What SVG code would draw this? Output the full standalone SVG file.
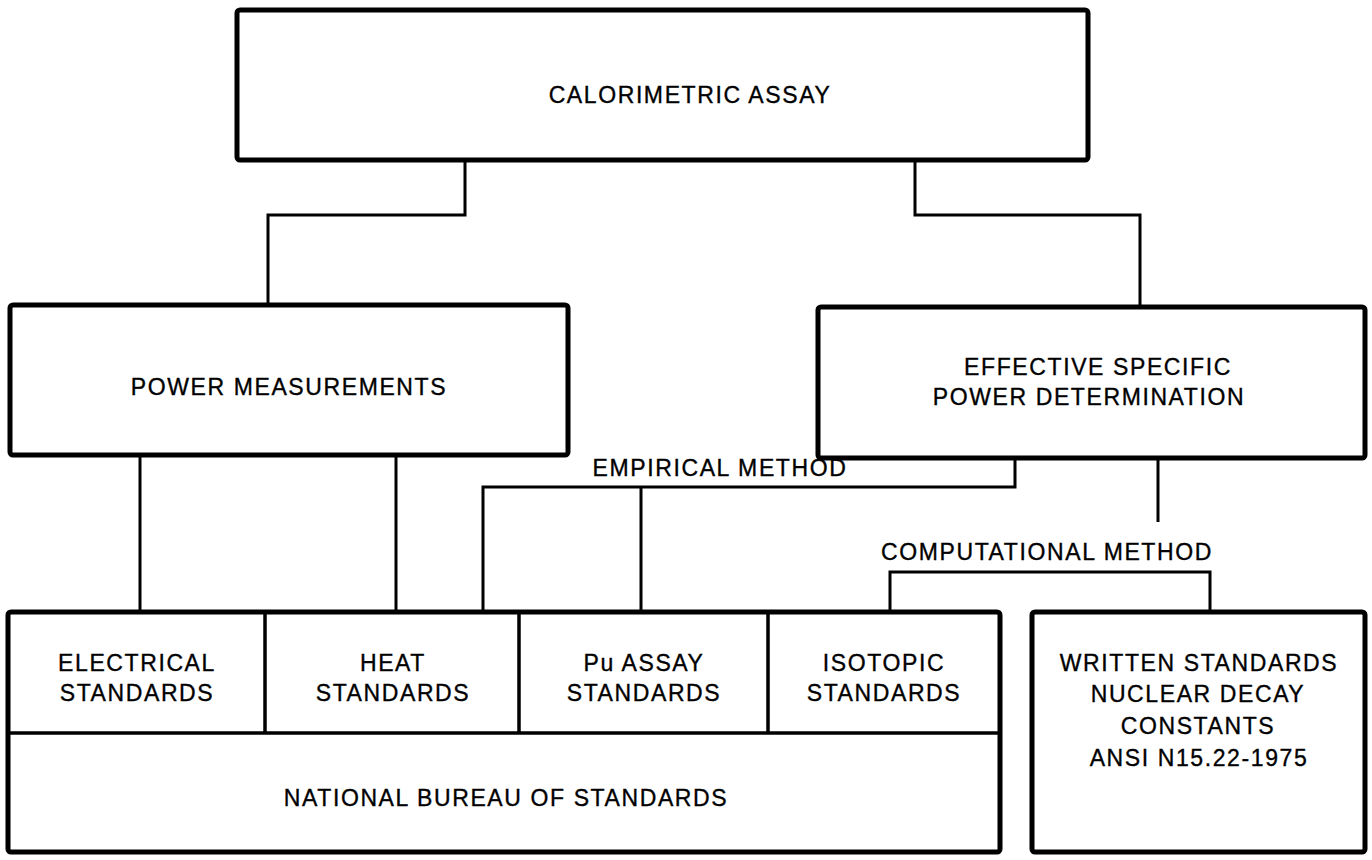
<svg xmlns="http://www.w3.org/2000/svg" width="1372" height="860" viewBox="0 0 1372 860">
<style>
.box{fill:#fff;stroke:#000;stroke-width:5}
.div{fill:none;stroke:#000;stroke-width:3.5}
.con{fill:none;stroke:#000;stroke-width:3}
text{font-family:"Liberation Sans",Arial,sans-serif;font-size:23px;letter-spacing:1.6px;fill:#000;stroke:#000;stroke-width:0.35px;text-anchor:middle}
</style>
<rect width="1372" height="860" fill="#fff"/>
<g id="connectors">
<polyline class="con" points="465,160 465,215 268,215 268,305"/>
<polyline class="con" points="915,160 915,215 1140,215 1140,307"/>
<line class="con" x1="140" y1="455" x2="140" y2="612"/>
<line class="con" x1="396" y1="455" x2="396" y2="612"/>
<polyline class="con" points="1015,458 1015,487 483,487 483,612"/>
<line class="con" x1="641" y1="487" x2="641" y2="612"/>
<line class="con" x1="1158" y1="458" x2="1158" y2="522"/>
<polyline class="con" points="890,612 890,572 1210,572 1210,612"/>
<text x="720" y="476">EMPIRICAL METHOD</text>
<text x="1047" y="560">COMPUTATIONAL METHOD</text>
</g>
<g id="calorimetric-assay">
<rect class="box" x="237" y="10" width="851" height="150" rx="3"/>
<text x="690" y="103">CALORIMETRIC ASSAY</text>
</g>
<g id="power-measurements">
<rect class="box" x="10" y="305" width="558" height="150" rx="3"/>
<text x="289" y="395">POWER MEASUREMENTS</text>
</g>
<g id="effective-specific-power">
<rect class="box" x="818" y="307" width="547" height="151" rx="3"/>
<text x="1098" y="375">EFFECTIVE SPECIFIC</text>
<text x="1089" y="405">POWER DETERMINATION</text>
</g>
<g id="national-bureau-of-standards">
<rect class="box" x="8" y="612" width="992" height="240" rx="3"/>
<line class="div" x1="8" y1="733" x2="1000" y2="733"/>
<text x="506" y="806">NATIONAL BUREAU OF STANDARDS</text>
</g>
<g id="electrical-standards">
<line class="div" x1="265" y1="612" x2="265" y2="733"/>
<text x="137" y="671">ELECTRICAL</text>
<text x="137" y="701">STANDARDS</text>
</g>
<g id="heat-standards">
<line class="div" x1="519" y1="612" x2="519" y2="733"/>
<text x="393" y="671">HEAT</text>
<text x="393" y="701">STANDARDS</text>
</g>
<g id="pu-assay-standards">
<line class="div" x1="768" y1="612" x2="768" y2="733"/>
<text x="644" y="671">Pu ASSAY</text>
<text x="644" y="701">STANDARDS</text>
</g>
<g id="isotopic-standards">
<text x="884" y="671">ISOTOPIC</text>
<text x="884" y="701">STANDARDS</text>
</g>
<g id="written-standards">
<rect class="box" x="1032" y="612" width="333" height="240" rx="3"/>
<text x="1199" y="671">WRITTEN STANDARDS</text>
<text x="1198" y="702">NUCLEAR DECAY</text>
<text x="1198" y="734">CONSTANTS</text>
<text x="1199" y="766">ANSI N15.22-1975</text>
</g>
</svg>
